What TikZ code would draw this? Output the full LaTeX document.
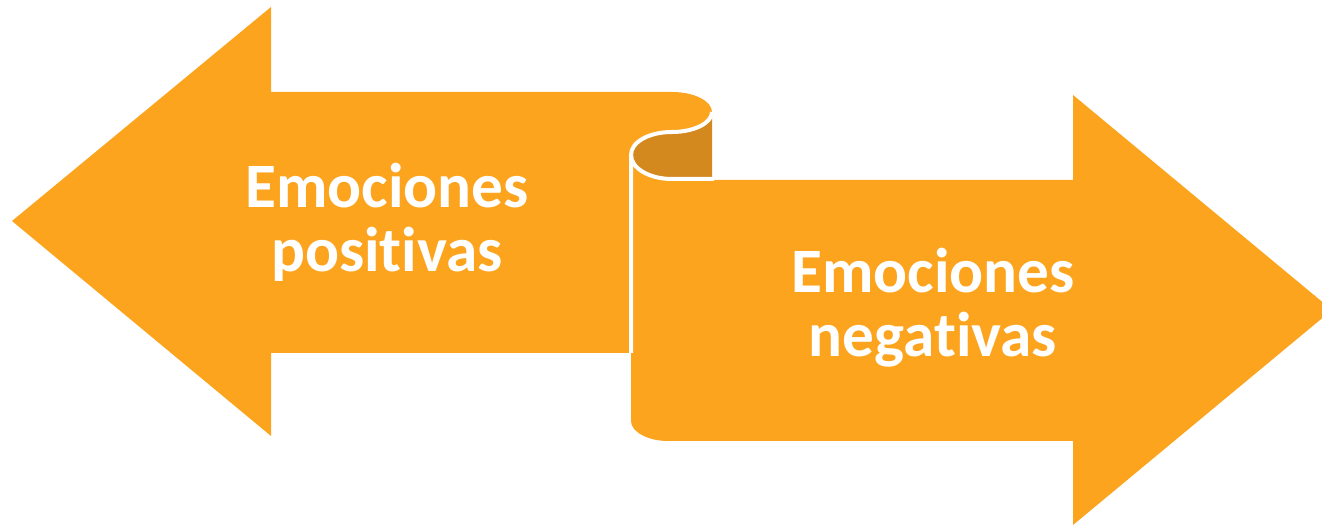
\documentclass[tikz,border=0pt]{standalone}
\usepackage{fontspec}
\setmainfont[Ligatures=NoCommon]{Carlito}
\usepackage{tikz}
\definecolor{scrollorange}{RGB}{253,164,30}
\definecolor{scrolldark}{RGB}{211,137,30}

\begin{document}
\begin{tikzpicture}[x=0.02cm, y=-0.02cm,
		scrollpart/.style={fill=scrollorange, draw=none},
		rollpart/.style={fill=scrolldark, draw=none},
		seam/.style={draw=white, line width=0.08cm},
		arrowtext/.style={text=white, align=center, font=\fontsize{36}{36.5}\selectfont\bfseries}]
			%%%%% START %%%%%
			\clip (0, 0) rectangle (1322, 526);
			
			% right arrow with the lower end of the scroll
			\path[scrollpart] (631, 155) .. controls (631, 168) and (649, 180) .. (672, 180) -- (1073, 180) -- (1073, 95) -- (1332, 310) -- (1073, 525) -- (1073, 441) -- (668, 441) .. controls (648, 441) and (631, 432) .. (631, 421) -- cycle;
			
			% left arrow with the upper end of the scroll
			\path[scrollpart] (12, 221) -- (271, 7) -- (271, 92) -- (672, 92) .. controls (694, 92) and (712, 101) .. (712, 112) .. controls (712, 123) and (694, 132) .. (672, 132) .. controls (649, 132) and (631, 142) .. (631, 155) -- (631, 353) -- (271, 353) -- (271, 436) -- cycle;
			
			% rolled part
			\path[rollpart] (712, 112) .. controls (712, 123) and (694, 132) .. (672, 132) .. controls (649, 132) and (631, 142) .. (631, 155) .. controls (631, 168) and (649, 178) .. (672, 178) -- (712, 178) -- cycle;
			
			\draw[seam] (712, 112) .. controls (712, 123) and (694, 132) .. (672, 132) .. controls (649, 132) and (631, 142) .. (631, 155) -- (631, 353);
			\draw[seam] (631, 155) .. controls (631, 168) and (649, 179) .. (672, 179) -- (714, 179);
			
			\node[arrowtext] (positivas) at (387, 222) {Emociones\\positivas};
			\node[arrowtext] (negativas) at (933, 308) {Emociones\\negativas};
			%%%%% END %%%%%
\end{tikzpicture}
\end{document}
